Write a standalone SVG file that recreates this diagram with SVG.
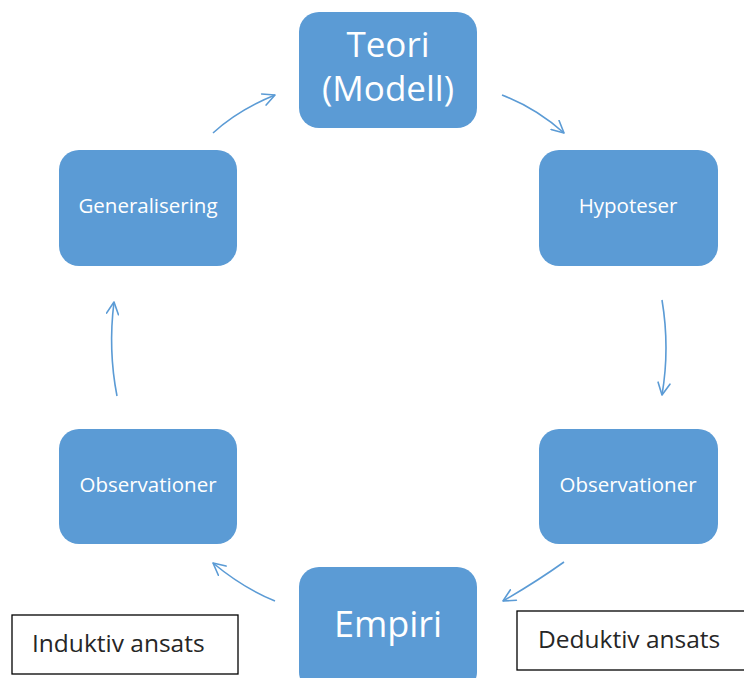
<svg xmlns="http://www.w3.org/2000/svg" width="744" height="678" viewBox="0 0 744 678">
<style>
.node{fill:#5B9BD5;}
.lbl{fill:#FFFFFF;font-family:"Open Sans","Liberation Sans",sans-serif;text-anchor:middle;font-variant-ligatures:none;}
.big{font-size:35px;}
.small{font-size:20.5px;}
.conn{fill:none;stroke:#5B9BD5;stroke-width:1.6;marker-end:url(#ah);}
.note{fill:#FFFFFF;stroke:#000000;stroke-width:1.3;}
.notetxt{fill:#262626;font-family:"Open Sans","Liberation Sans",sans-serif;font-size:24.5px;font-variant-ligatures:none;}
</style>
<defs>
<marker id="ah" viewBox="0 0 14 14" refX="13" refY="7" markerWidth="14" markerHeight="14" markerUnits="userSpaceOnUse" orient="auto">
<path d="M1,1 L13,7 L1,13" fill="none" stroke="#5B9BD5" stroke-width="1.6" stroke-linecap="round" stroke-linejoin="round"/>
</marker>
</defs>
<rect width="744" height="678" fill="#FFFFFF"/>
<g id="connectors">
<path class="conn" d="M213,133 Q238,110 275,95"/>
<path class="conn" d="M502,95 Q536,108 564,133"/>
<path class="conn" d="M662,300 Q670,348 662,395"/>
<path class="conn" d="M564,562 Q536,582 503,601"/>
<path class="conn" d="M275,601 Q243,588 213,563"/>
<path class="conn" d="M117,396 Q108,350 114,302"/>
</g>
<g id="teori">
<rect class="node" x="299" y="12" width="178" height="116" rx="20"/>
<text class="lbl big" x="388" y="57">Teori</text>
<text class="lbl big" x="388" y="101">(Modell)</text>
</g>
<g id="hypoteser">
<rect class="node" x="539" y="150" width="179" height="116" rx="20"/>
<text class="lbl small" x="628" y="213">Hypoteser</text>
</g>
<g id="observationer-right">
<rect class="node" x="539" y="429" width="179" height="115" rx="20"/>
<text class="lbl small" x="628" y="492">Observationer</text>
</g>
<g id="empiri">
<rect class="node" x="299" y="567" width="178" height="125" rx="20"/>
<text class="lbl" x="388" y="637" style="font-size:36px">Empiri</text>
</g>
<g id="observationer-left">
<rect class="node" x="59" y="429" width="178" height="115" rx="20"/>
<text class="lbl small" x="148" y="492">Observationer</text>
</g>
<g id="generalisering">
<rect class="node" x="59" y="150" width="178" height="116" rx="20"/>
<text class="lbl small" x="148" y="213">Generalisering</text>
</g>
<g id="induktiv">
<rect class="note" x="12" y="615" width="226" height="59"/>
<text class="notetxt" x="32" y="652">Induktiv ansats</text>
</g>
<g id="deduktiv">
<rect class="note" x="517" y="611" width="240" height="59"/>
<text class="notetxt" x="538" y="648">Deduktiv ansats</text>
</g>
</svg>
